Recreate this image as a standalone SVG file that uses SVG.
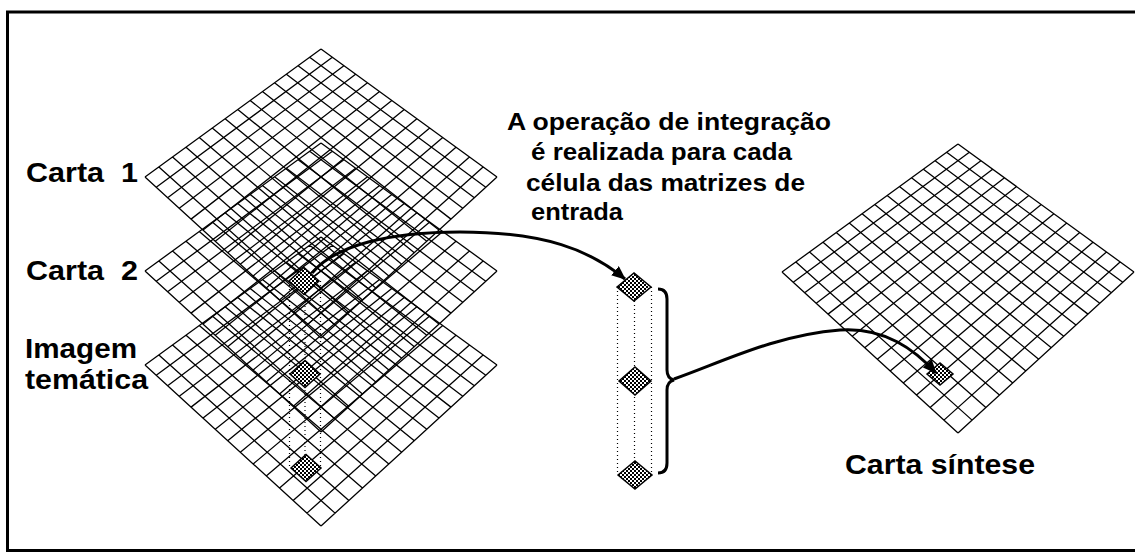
<svg xmlns="http://www.w3.org/2000/svg" width="1135" height="554" viewBox="0 0 1135 554">
<style>
.grid{fill:none;stroke:#000;stroke-width:1.3}
.cell{fill:url(#shade);stroke:#000;stroke-width:1.5}
.dot{fill:none;stroke:#000;stroke-width:1.2;stroke-dasharray:1 3}
.lbl{font-family:"Liberation Sans",Arial,sans-serif;font-weight:bold;font-size:27px;fill:#000}
.desc{font-family:"Liberation Sans",Arial,sans-serif;font-weight:bold;font-size:24px;fill:#000}
.conn{fill:none;stroke:#000;stroke-width:3}
.frame{fill:none;stroke:#000;stroke-width:3}
</style>
<defs>
<pattern id="shade" width="4" height="4" patternUnits="userSpaceOnUse"><rect width="4" height="4" fill="#fff"/><rect width="2" height="2" fill="#000"/><rect x="2" y="2" width="2" height="2" fill="#000"/><rect x="1" y="1" width="1" height="1" fill="#000"/></pattern>
<marker id="ah" markerWidth="14" markerHeight="12" refX="13" refY="6" orient="auto" markerUnits="userSpaceOnUse"><path d="M0,0 L14,6 L0,12 Z" fill="#000"/></marker>
<path id="gridpath" class="grid" d="M0,0 L-176,128 M11.37,8.27 L-164.77,138.27 M22.90,16.66 L-153.36,148.71 M34.61,25.17 L-141.75,159.33 M46.49,33.81 L-129.95,170.12 M58.56,42.59 L-117.95,181.10 M70.81,51.50 L-105.75,192.27 M83.25,60.54 L-93.33,203.63 M95.88,69.73 L-80.69,215.18 M108.71,79.06 L-67.84,226.94 M121.74,88.54 L-54.75,238.92 M134.98,98.17 L-41.43,251.10 M148.44,107.95 L-27.87,263.50 M162.11,117.90 L-14.06,276.14 M176,128 L0,289 M0,0 L176,128 M-11.37,8.27 L164.77,138.27 M-22.90,16.66 L153.36,148.71 M-34.61,25.17 L141.75,159.33 M-46.49,33.81 L129.95,170.12 M-58.56,42.59 L117.95,181.10 M-70.81,51.50 L105.75,192.27 M-83.25,60.54 L93.33,203.63 M-95.88,69.73 L80.69,215.18 M-108.71,79.06 L67.84,226.94 M-121.74,88.54 L54.75,238.92 M-134.98,98.17 L41.43,251.10 M-148.44,107.95 L27.87,263.50 M-162.11,117.90 L14.06,276.14 M-176,128 L0,289"/>
</defs>
<rect width="1135" height="554" fill="#fff"/>
<rect class="frame" x="7.5" y="12" width="1200" height="538.5"/>

<g id="carta1">
<use href="#gridpath" transform="translate(321,49)"/>
<text class="lbl" x="26" y="182" textLength="112" lengthAdjust="spacingAndGlyphs" xml:space="preserve">Carta  1</text>
</g>
<g id="carta2">
<use href="#gridpath" transform="translate(321,143)"/>
<text class="lbl" x="26" y="280" textLength="112" lengthAdjust="spacingAndGlyphs" xml:space="preserve">Carta  2</text>
</g>
<g id="imagem">
<use href="#gridpath" transform="translate(321,237)"/>
<text class="lbl" x="25" y="358" textLength="112" lengthAdjust="spacingAndGlyphs">Imagem</text>
<text class="lbl" x="25" y="389" textLength="123" lengthAdjust="spacingAndGlyphs">temática</text>
</g>
<g id="pilha-celulas">
<path class="dot" d="M289.5,281 V468 M320.5,281 V468 M305,294 V455"/>
<polygon class="cell" points="289,281 304,267.5 319,281 304,294.5"/>
<polygon class="cell" points="290,374 305,360.5 320,374 305,387.5"/>
<polygon class="cell" points="291,468 306,454.5 321,468 306,481.5"/>
</g>
<g id="coluna">
<path class="dot" d="M617.5,287 V475 M651.5,287 V475 M634.5,301 V461"/>
<polygon class="cell" points="617,287 634,273 651,287 634,301"/>
<polygon class="cell" points="619,381 635,367 651,381 635,395"/>
<polygon class="cell" points="618,475 635,461 652,475 635,489"/>
<path d="M658,289 C664,289 667,292 667,299 L667,370 C667,376 670,379 674,380 C670,381 667,384 667,390 L667,463 C667,470 664,473 658,473" fill="none" stroke="#000" stroke-width="3"/>
</g>
<g id="sintese">
<use href="#gridpath" transform="translate(958,144)"/>
<polygon class="cell" points="927,374 940,363 953,374 940,385"/>
<text class="lbl" x="845" y="474" textLength="190" lengthAdjust="spacingAndGlyphs">Carta síntese</text>
</g>
<g id="texto">
<text class="desc" x="507" y="130" textLength="324" lengthAdjust="spacingAndGlyphs">A operação de integração</text>
<text class="desc" x="531" y="160" textLength="261" lengthAdjust="spacingAndGlyphs">é realizada para cada</text>
<text class="desc" x="526" y="191" textLength="279" lengthAdjust="spacingAndGlyphs">célula das matrizes de</text>
<text class="desc" x="531" y="220" textLength="92" lengthAdjust="spacingAndGlyphs">entrada</text>
</g>
<g id="conectores">
<path class="conn" d="M312,273 C335,245 390,232 460,232 C545,232 590,250 625,279" marker-end="url(#ah)"/>
<path class="conn" stroke-width="2.5" d="M674,379 C720,363 775,335 840,330 C885,327 915,350 936,373" marker-end="url(#ah)"/>
</g>
</svg>
